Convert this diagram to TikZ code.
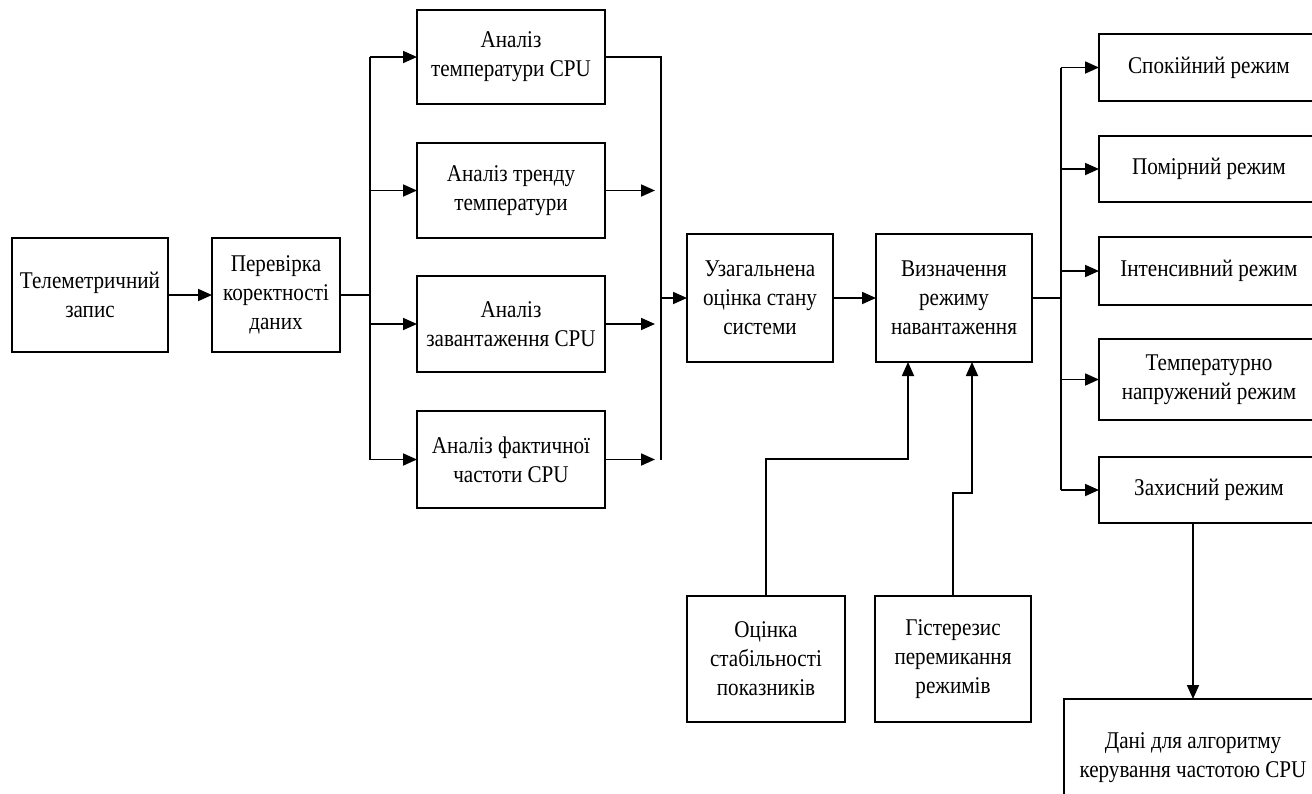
\documentclass[tikz,border=0pt]{standalone}
\usepackage{fontspec}
\setmainfont{Liberation Serif}[FakeStretch=0.88]
\usetikzlibrary{positioning,arrows.meta}
\tikzset{%
  block/.style={draw,line width=.9pt,align=center,inner sep=2pt,outer sep=0pt,
    font=\fontsize{12}{14.5}\selectfont},
  sz/.style 2 args={minimum width=#1,minimum height=#2},
  wire/.style={line width=.9pt},
  link/.style={wire,-{Triangle[length=7pt,width=6pt]}}
}

\begin{document}
\begin{tikzpicture}[x=.5pt,y=-.5pt]
  \clip (0,0) rectangle (1312,793);

  % input chain
  \node[block,sz={78pt}{57pt}] (tel) at (90,295) {Телеметричний\\запис};
  \node[block,sz={64pt}{57pt},right=22pt of tel] (check) {Перевірка\\коректності\\даних};

  % analysis
  \node[block,sz={94pt}{47pt}] (a1) at (511,57) {Аналіз\\температури CPU};
  \node[block,sz={94pt}{47.5pt}] (a2) at (511,190.5) {Аналіз тренду\\температури};
  \node[block,sz={94pt}{48pt}] (a3) at (511,324) {Аналіз\\завантаження CPU};
  \node[block,sz={94pt}{48.5pt}] (a4) at (511,459.5) {Аналіз фактичної\\частоти CPU};

  \node[block,sz={73pt}{64pt}] (gen) at (760,298) {Узагальнена\\оцінка стану\\системи};
  \node[block,sz={78pt}{64pt},right=21.5pt of gen] (mode) {Визначення\\режиму\\навантаження};

  % modes
  \node[block,sz={110pt}{33.5pt}] (r1) at (1209,67.5) {Спокійний режим};
  \node[block,sz={110pt}{33pt}] (r2) at (1209,169) {Помірний режим};
  \node[block,sz={110pt}{34pt}] (r3) at (1209,271) {Інтенсивний режим};
  \node[block,sz={110pt}{40.5pt}] (r4) at (1209,379.5) {Температурно\\напружений режим};
  \node[block,sz={110pt}{33pt}] (r5) at (1209,490) {Захисний режим};
  \node[block,sz={129pt}{59pt}] (out) at (1193,758) {Дані для алгоритму\\керування частотою CPU};

  % side inputs
  \node[block,sz={79pt}{63pt}] (stab) at (766,659) {Оцінка\\стабільності\\показників};
  \node[block,sz={78pt}{63pt}] (hyst) at (953,659) {Гістерезис\\перемикання\\режимів};

  \coordinate (busL) at (370,295);
  \coordinate (busM) at (661,298);
  \coordinate (busR) at (1061,298);
  \coordinate (jS) at (908,459);
  \coordinate (jH) at (972,493);

  \draw[link] (tel) -- (check);
  \draw[wire] (check.east) -- (busL);
  \draw[wire] (busL |- a1.west) -- (busL |- a4.west);
  \foreach \n in {a1,a2,a3,a4}
    \draw[link] (busL |- \n.west) -- (\n.west);

  \draw[wire] (a1.east) -- (busM |- a1.east) -- (busM |- a4.east);
  \foreach \n in {a2,a3,a4}
    \draw[link] (\n.east) -- ([xshift=-3pt]busM |- \n.east);
  \draw[link] (busM) -- (gen.west);
  \draw[link] (gen) -- (mode);

  \draw[wire] (mode.east) -- (busR);
  \draw[wire] (busR |- r1.west) -- (busR |- r5.west);
  \foreach \n in {r1,r2,r3,r4,r5}
    \draw[link] (busR |- \n.west) -- (\n.west);
  \draw[link] (r5.south -| out.north) -- (out.north);

  \draw[link] (stab.north) |- (jS) -- (jS |- mode.south);
  \draw[link] (hyst.north) |- (jH) -- (jH |- mode.south);
\end{tikzpicture}
\end{document}
